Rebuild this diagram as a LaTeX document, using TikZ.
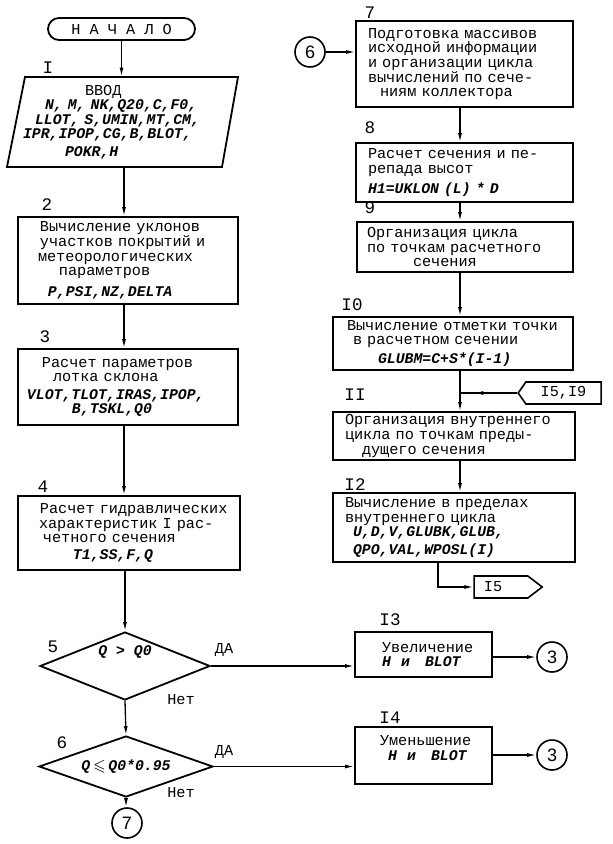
\documentclass[tikz,border=0pt]{standalone}
\usepackage{amssymb}
\usepackage{fontspec}
\setmainfont{Liberation Mono}
\newfontfamily\sansf{Liberation Sans}
\usetikzlibrary{arrows.meta,shapes.geometric,shapes.symbols,calc,decorations.markings}
\newcommand\txtf{\fontsize{7.6pt}{7.3pt}\selectfont}
\newcommand\vv[1]{{\fontsize{7.4pt}{7.3pt}\selectfont\bfseries\itshape #1}}
\tikzset{
  boxline/.style={draw, line width=0.9pt},
  pbox/.style={boxline, rectangle, inner xsep=0pt, inner ysep=0pt, align=left, font=\txtf},
  lbl/.style={font=\fontsize{8.8pt}{9pt}\selectfont, inner sep=0pt},
  elbl/.style={font=\txtf, inner sep=0pt},
  conn/.style={line width=0.65pt, -{Latex[length=4.5pt,width=2pt]}},
  plainline/.style={line width=0.65pt},
  midarr/.style={postaction={decorate}, decoration={markings, mark=at position #1 with {\arrow{Latex[length=4.5pt,width=2pt]}}}},
  midarr/.default=0.7,
  circ/.style={circle, draw, line width=0.8pt, minimum size=15pt, inner sep=0pt, font=\sansf\fontsize{9pt}{9pt}\selectfont},
  dec/.style={diamond, draw, line width=0.9pt, inner sep=0pt, aspect=2.5, font=\txtf},
  sig/.style={signal, draw, line width=0.8pt, inner sep=0pt, font=\txtf, signal from=nowhere},
}
\begin{document}
\begin{tikzpicture}[x=0.5pt,y=-0.5pt]
\useasboundingbox (0,0) rectangle (613,844);
\coordinate (colL) at (124,0);
\coordinate (colR) at (460,0);
\coordinate (k12) at (438,0);
\coordinate (j11) at (460,393);

% left column
\node[boxline, rounded corners=5.5pt, minimum width=73.5pt, minimum height=11pt, inner sep=0pt, font=\txtf] (start) at (121.5,29) {Н А Ч А Л О};

\node[inner sep=0pt, text width=100pt, minimum height=45pt, align=left, font=\txtf] (in) at (123,122)
 {\hspace*{31pt}ВВОД\\
  \hspace*{11pt}\vv{N, M, NK,Q20,C,F0,}\\
  \hspace*{6pt}\vv{LLOT, S,UMIN,MT,CM,}\\
  \hspace*{0pt}\vv{IPR,IPOP,CG,B,BLOT,}\\[1.5pt]
  \hspace*{21pt}\vv{POKR,H}};
\draw[boxline] ($(in.center)+(-98,-45)$) -- ($(in.center)+(115,-45)$) -- ($(in.center)+(99,45)$) -- ($(in.center)+(-116,45)$) -- cycle;

\node[pbox, text width=110pt, minimum height=43.5pt] (b2) at (128,260.5)
 {\hspace*{11pt}Вычисление уклонов\\
  \hspace*{11pt}участков покрытий и\\
  \hspace*{10pt}метеорологических\\
  \hspace*{20.5pt}параметров\\[3pt]
  \hspace*{15pt}\vv{P,PSI,NZ,DELTA}};

\node[pbox, text width=110pt, minimum height=38pt] (b3) at (128,387)
 {\hspace*{12pt}Расчет параметров\\
  \hspace*{17.5pt}лотка склона\\[1.5pt]
  \hspace*{4.5pt}\vv{VLOT,TLOT,IRAS,IPOP,}\\
  \hspace*{27pt}\vv{B,TSKL,Q0}};

\node[pbox, text width=111pt, minimum height=37pt] (b4) at (129,533)
 {\hspace*{11pt}Расчет гидравлических\\
  \hspace*{10.5pt}характеристик I рас-\\
  \hspace*{12.5pt}четного сечения\\[1pt]
  \hspace*{27.5pt}\vv{T1,SS,F,Q}};

\node[dec, minimum width=85pt, minimum height=34pt] (d5) at (125,666) {\raisebox{5.5pt}[0pt][0pt]{\vv{Q > Q0}}};
\node[dec, minimum width=87pt, minimum height=30.5pt] (d6) at (126,766.5) {\vv{Q\,$\leqslant$\,Q0*0.95}};
\node[circ] (c7) at (127,823) {7};

% right column
\node[circ] (c6) at (310,52) {6};
\node[pbox, text width=108.5pt, minimum height=43pt] (b7) at (464.5,64)
 {\hspace*{6pt}Подготовка массивов\\
  \hspace*{6pt}исходной информации\\
  \hspace*{6pt}и организации цикла\\
  \hspace*{6pt}вычислений по сече-\\
  \hspace*{12pt}ниям коллектора};

\node[pbox, text width=108.5pt, minimum height=29.5pt] (b8) at (464.5,172.5)
 {\hspace*{6pt}Расчет сечения и пе-\\
  \hspace*{6pt}репада высот\\[2.5pt]
  \hspace*{6pt}\vv{H1=UKLON (L) * D}};

\node[pbox, text width=108pt, minimum height=25pt] (b9) at (465,247)
 {\hspace*{5pt}Организация цикла\\
  \hspace*{5pt}по точкам расчетного\\
  \hspace*{28pt}сечения};

\node[pbox, text width=120pt, minimum height=26.5pt] (b10) at (453,343.5)
 {\hspace*{7pt}Вычисление отметки точки\\
  \hspace*{10pt}в расчетном сечении\\[2pt]
  \hspace*{22.5pt}\vv{GLUBM=C+S*(I-1)}};

\node[sig, signal to=west, signal pointer angle=110, minimum width=41.5pt, minimum height=11pt] (c159) at (563.5,393) {I5,I9};

\node[pbox, text width=121pt, minimum height=24pt] (b11) at (454,436)
 {\hspace*{6pt}Организация внутреннего\\
  \hspace*{6pt}цикла по точкам преды-\\
  \hspace*{14.5pt}дущего сечения};

\node[pbox, text width=121pt, minimum height=34.5pt] (b12) at (454,527.5)
 {\hspace*{6pt}Вычисление в пределах\\
  \hspace*{6pt}внутреннего цикла\\
  \hspace*{10pt}\vv{U,D,V,GLUBK,GLUB,}\\[1.5pt]
  \hspace*{10pt}\vv{QPO,VAL,WPOSL(I)}};

\node[sig, signal to=east, signal pointer angle=75, minimum width=34pt, minimum height=11pt] (c15) at (501,587) {I5\hspace*{8pt}};

\node[pbox, text width=68.5pt, minimum height=22.5pt] (b13) at (423.5,654.5)
 {\hspace*{13.5pt}Увеличение\\
  \hspace*{13.5pt}\vv{H\ \ и\ \ \ BLOT}};
\node[pbox, text width=68.5pt, minimum height=28.5pt] (b14) at (423.5,755.5)
 {\hspace*{12.5pt}Уменьшение\\
  \hspace*{16.5pt}\vv{H\ \ и\ \ \ BLOT}\\
  \mbox{}};
\node[circ] (c3a) at (552,657) {3};
\node[circ] (c3b) at (552,755) {3};

% block numbers
\node[lbl] (n1) at (48,68) {I};
\node[lbl] (n2) at (47,205) {2};
\node[lbl] (n3) at (45,337) {3};
\node[lbl] (n4) at (43,487) {4};
\node[lbl] (n5) at (53,647) {5};
\node[lbl] (n6) at (62,743) {6};
\node[lbl] (n7) at (370,13) {7};
\node[lbl] (n8) at (370,128) {8};
\node[lbl] (n9) at (370,208) {9};
\node[lbl] (n10) at (352,305) {I0};
\node[lbl] (n11) at (355,395) {II};
\node[lbl] (n12) at (355,485) {I2};
\node[lbl] (n13) at (390,620) {I3};
\node[lbl] (n14) at (390,718) {I4};

% edge labels
\node[elbl] (da1) at (224,650) {ДА};
\node[elbl] (da2) at (224,752) {ДА};
\node[elbl] (net1) at (181,700) {Нет};
\node[elbl] (net2) at (181,793) {Нет};

% connectors
\draw[conn] (start.south) -- (start.south |- in.north);
\draw[conn] (in.south -| colL) -- (b2.north -| colL);
\draw[conn] (b2.south -| colL) -- (b3.north -| colL);
\draw[conn] (b3.south -| colL) -- (b4.north -| colL);
\draw[conn] (b4.south -| d5.north) -- (d5.north);
\draw[conn] (d5.south) -- (d6.north);
\draw[conn] (d6.south) -- (d6.south |- c7.north);
\draw[conn] (d5.east) -- (d5.east -| b13.west);
\draw[conn] (d6.east) -- (d6.east -| b14.west);
\draw[conn] (b13.east |- c3a) -- (c3a.west);
\draw[conn] (b14.east |- c3b) -- (c3b.west);
\draw[conn] (c6.east) -- (c6.east -| b7.west);
\draw[conn] (b7.south -| colR) -- (b8.north -| colR);
\draw[conn] (b8.south -| colR) -- (b9.north -| colR);
\draw[conn] (b9.south -| colR) -- (b10.north -| colR);
\draw[conn] (b10.south -| colR) -- (b11.north -| colR);
\draw[plainline, midarr=0.75] (c159.west) -- (j11);
\draw[conn] (b11.south -| colR) -- (b12.north -| colR);
\draw[conn] (b12.south -| k12) |- (c15.west);
\end{tikzpicture}
\end{document}
